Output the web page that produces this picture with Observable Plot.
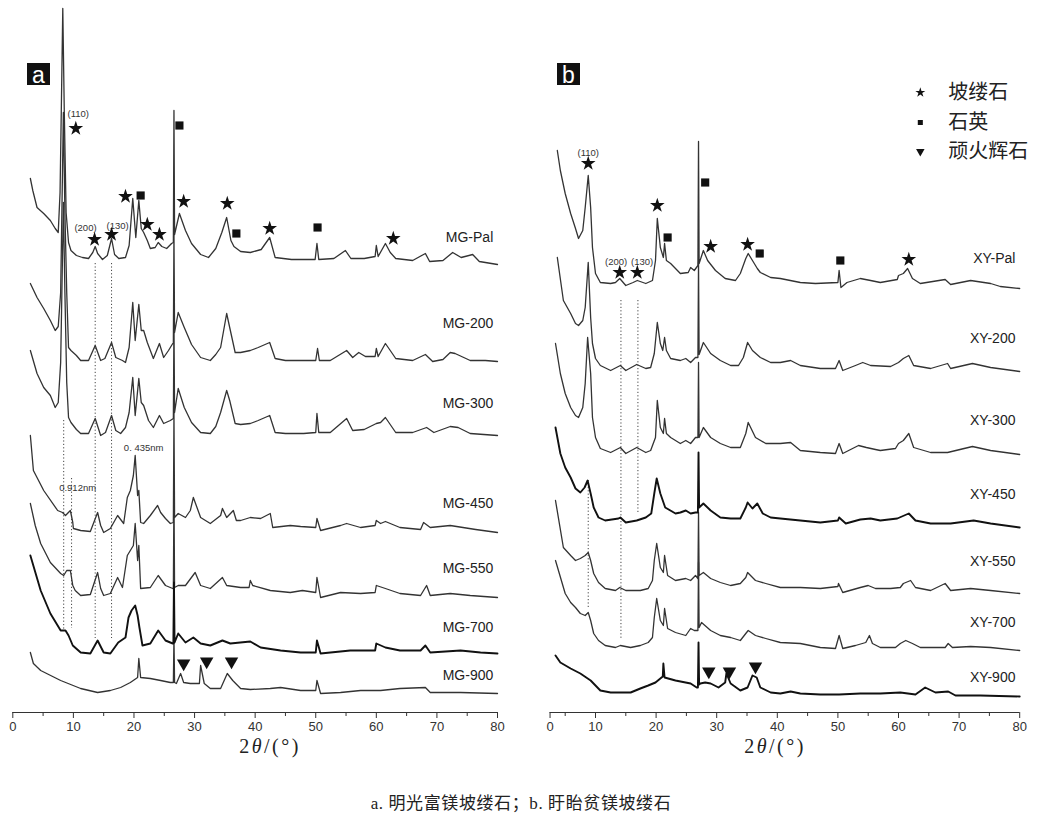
<!DOCTYPE html>
<html><head><meta charset="utf-8">
<script src="https://cdn.jsdelivr.net/npm/d3@7"></script>
<script src="https://cdn.jsdelivr.net/npm/@observablehq/plot@0.6"></script>
<style>
body{margin:0;background:#fff;}
#wrap{width:1042px;}
#row{display:flex;}
#cap{text-align:center;font:17px "Liberation Serif","Noto Sans CJK SC",serif;margin-top:29px;color:#222;letter-spacing:0.6px;}
</style></head><body>
<div id="wrap"><div id="row"></div><div id="cap">a. 明光富镁坡缕石；b. 盱眙贫镁坡缕石</div></div>
<script>
// ---------- Panel a: 明光 (MG) samples, [2θ, intensity (a.u., stacked)] ----------
const MG_Pal = [[2.9,534],[3.3,522],[4.0,505],[5.1,499],[6.2,492],[7.0,484],[7.5,480],[7.8,520],[8.0,600],[8.25,704],[8.5,600],[8.8,500],[9.2,470],[9.6,462],[10.5,457],[11.5,455],[12.5,454],[13.2,460],[13.6,466],[14.0,459],[14.8,453],[15.6,457],[16.3,474],[16.8,458],[17.5,454],[18.6,455],[19.2,467],[19.8,514],[20.3,475],[20.8,512],[21.2,484],[21.6,480],[22.2,472],[22.7,464],[23.5,465],[24.0,470],[24.6,466],[25.4,464],[26.2,469],[26.5,470],[26.6,602],[26.7,478],[27.5,499],[28.5,482],[29.5,469],[31.0,458],[32.3,455],[33.5,464],[34.5,480],[35.3,495],[36.0,472],[36.5,466],[37.6,461],[39.2,460],[41,463],[42.4,475],[43.3,455],[46,453],[49.9,453],[50.2,469],[50.5,453],[53,454],[54.9,462],[55.8,454],[58,454],[59.8,456],[60.0,467],[60.3,456],[61.5,469],[62.3,460],[63.2,454],[66,452],[68.1,459],[68.8,451],[71,452],[72.6,460],[74,455],[75.9,458],[77,451],[80,448]];
const MG_200 = [[2.9,429],[4.0,415],[5.1,404],[6.2,392],[7.0,382],[7.5,386],[7.9,420],[8.1,500],[8.35,600],[8.6,500],[8.9,420],[9.2,365],[9.6,362],[10.5,357],[11.2,352],[12.5,352],[13.6,367],[14.5,352],[15.2,354],[16.3,370],[17.0,355],[18.1,352],[18.6,350],[19.2,365],[19.8,410],[20.2,372],[20.8,408],[21.2,382],[21.6,382],[22.2,370],[23.2,354],[24.2,369],[24.9,355],[25.7,362],[26.4,369],[26.5,369],[26.6,480],[26.7,380],[27.3,400],[28.3,385],[29.5,368],[31.0,355],[32.6,352],[33.5,358],[34.3,365],[35.3,399],[35.8,385],[36.7,360],[37.6,360],[39.2,362],[40.5,365],[42.4,370],[43.3,354],[45,352],[48,352],[50.0,352],[50.3,364],[50.6,352],[52.4,352],[55.1,362],[56.1,355],[57.1,360],[58.2,356],[59.8,356],[60.0,364],[60.3,356],[61.5,369],[62.3,362],[63.2,354],[66,352],[68.1,358],[69.3,351],[71,353],[72.2,360],[73.0,359],[75.5,352],[78,352],[80,351]];
const MG_300 = [[2.9,362],[4.0,339],[5.1,325],[6.2,317],[7.0,305],[7.5,310],[7.9,350],[8.1,420],[8.35,510],[8.6,420],[8.9,330],[9.2,295],[9.6,290],[10.5,283],[11.2,279],[12.5,279],[13.6,294],[14.5,277],[15.3,280],[16.3,297],[17.0,282],[17.8,279],[18.6,285],[19.2,300],[19.8,335],[20.2,297],[20.8,334],[21.2,310],[21.6,307],[22.4,292],[23.2,285],[24.2,297],[24.9,289],[26.0,292],[26.5,294],[26.6,390],[26.7,300],[27.3,324],[28.3,305],[29.5,290],[31.0,280],[32.6,279],[33.5,286],[34.3,300],[35.3,322],[35.8,312],[36.7,289],[37.6,288],[39.2,289],[40.5,292],[42.4,297],[43.3,280],[45,279],[48,279],[50.0,280],[50.2,299],[50.5,280],[52.4,280],[55.1,294],[56.1,282],[58,283],[60.0,289],[60.7,290],[61.5,295],[63.2,280],[66,280],[68.3,285],[69.5,280],[72.2,286],[73.5,285],[75.5,279],[80,277]];
const MG_450 = [[2.9,277],[3.4,242],[5.1,222],[7.4,202],[8.2,200],[8.7,197],[9.5,202],[9.9,190],[10.0,184],[11.2,182],[12.8,181],[14.0,200],[14.5,187],[15.0,180],[16.1,184],[17.3,197],[18.3,189],[18.9,215],[19.4,222],[19.9,237],[20.2,257],[20.6,217],[20.8,222],[21.1,190],[21.6,189],[22.7,197],[23.9,207],[24.4,200],[25.2,194],[26.0,189],[26.5,190],[26.6,300],[26.7,195],[27.3,199],[28.5,195],[29.3,202],[29.8,215],[31.0,195],[32.6,189],[34.3,197],[34.6,204],[35.3,195],[36.4,202],[36.9,192],[37.6,192],[39.2,195],[40.9,194],[42.5,199],[42.9,185],[45.8,187],[47.5,186],[50.0,185],[50.2,194],[50.8,182],[54.1,187],[55.1,189],[57.4,185],[59.8,187],[60.0,192],[60.7,189],[61.5,191],[63.9,185],[67.3,183],[67.8,190],[68.9,185],[72.2,187],[76.4,183],[80,180]];
const MG_550 = [[2.9,209],[3.7,187],[4.6,169],[6.2,150],[7.9,139],[8.4,137],[8.9,142],[9.5,142],[9.9,127],[10.3,122],[11.2,117],[12.8,118],[14.0,140],[14.5,124],[15.0,117],[16.1,119],[17.3,135],[18.1,125],[18.9,157],[19.4,162],[19.9,167],[20.2,189],[20.6,152],[20.8,167],[21.1,124],[22.7,125],[24.0,137],[25.2,127],[26.4,124],[26.5,124],[26.6,220],[26.7,125],[27.3,127],[28.5,127],[30.1,140],[31.0,127],[32.6,124],[34.6,135],[35.3,127],[37.6,125],[39.0,125],[39.2,132],[39.6,127],[42.5,122],[45.8,120],[47.8,122],[50.0,120],[50.2,135],[50.8,115],[54.1,120],[57.4,119],[59.8,120],[60.0,127],[61.5,124],[63.9,119],[67.3,117],[68.3,127],[68.9,117],[72.2,119],[75.5,117],[80,115]];
const MG_700 = [[2.9,157],[4.6,122],[6.2,99],[7.9,82],[8.7,82],[9.2,77],[9.9,67],[11.2,60],[12.8,59],[14.0,72],[15.0,60],[16.1,59],[17.4,70],[18.6,75],[19.1,95],[19.6,102],[20.2,107],[20.6,97],[20.9,85],[21.4,67],[22.7,69],[24.0,82],[25.2,72],[26.4,69],[26.5,69],[26.6,130],[26.7,70],[27.3,79],[28.5,70],[29.8,75],[31.0,69],[32.6,67],[34.6,72],[35.9,69],[39.2,71],[40.9,65],[44.2,62],[47.5,60],[50.0,60],[50.2,72],[50.8,59],[55.7,62],[59.8,62],[60.0,69],[61.5,65],[63.9,62],[67.3,62],[68.1,67],[68.9,60],[73.9,62],[77.2,60],[80,59]];
const MG_900 = [[2.9,60],[3.4,49],[4.6,42],[7.9,32],[11.2,24],[14.0,20],[16.1,22],[17.8,25],[19.4,30],[20.6,35],[20.8,54],[21.1,35],[22.7,34],[24.4,32],[26.0,30],[26.5,30],[26.6,75],[26.7,30],[27.0,29],[27.7,39],[28.2,30],[29.3,29],[30.8,29],[31.0,47],[31.6,29],[32.6,24],[34.3,24],[35.4,39],[36.3,32],[37.6,24],[39.2,23],[42.5,24],[44.2,25],[47.5,22],[50.0,22],[50.2,32],[50.8,19],[54.1,20],[57.4,22],[60.7,22],[63.9,24],[68.1,25],[68.9,20],[73.9,20],[80,19]];

// ---------- Panel b: 盱眙 (XY) samples ----------
const XY_Pal = [[3.7,562],[4.2,542],[5.0,519],[5.9,499],[6.7,484],[7.2,474],[7.9,482],[8.3,505],[8.8,537],[9.2,505],[9.5,465],[10.0,439],[10.8,430],[12.5,429],[13.3,430],[14.0,434],[15.0,427],[16.2,430],[16.9,432],[18.3,429],[19.4,432],[19.9,452],[20.2,494],[20.7,465],[21.2,455],[21.4,469],[21.7,452],[22.4,449],[24.0,439],[25.3,440],[25.7,445],[26.3,442],[26.9,447],[27.0,571],[27.1,449],[27.8,462],[28.5,452],[29.8,442],[31.4,434],[33.1,432],[33.9,439],[34.8,454],[35.2,459],[35.9,452],[36.7,444],[37.2,440],[38.9,435],[40.5,434],[43.8,430],[46.3,429],[50.0,430],[50.2,442],[50.5,425],[51.5,430],[53.7,434],[55.4,432],[57.0,430],[59.8,433],[60.0,437],[60.8,439],[61.5,444],[62.3,434],[63.6,429],[67.7,433],[68.6,428],[71.9,432],[75.2,429],[76.8,426],[80,424]];
const XY_200 = [[3.7,455],[4.7,412],[5.9,399],[6.7,389],[7.2,387],[7.9,392],[8.3,405],[8.8,450],[9.2,395],[9.5,369],[10.0,354],[10.8,347],[12.5,342],[14.1,347],[15.0,342],[16.8,348],[18.3,344],[19.1,345],[19.7,359],[20.2,390],[20.7,369],[21.1,362],[21.4,375],[21.7,362],[22.4,354],[24.0,352],[24.9,354],[25.7,350],[26.5,355],[26.9,355],[27.0,450],[27.1,358],[27.8,370],[29.0,359],[30.6,352],[32.3,347],[33.6,347],[34.4,355],[35.1,370],[35.9,362],[37.2,355],[38.9,350],[40.5,350],[42.2,352],[43.8,347],[47.1,344],[49.6,344],[50.2,352],[50.8,342],[52.9,347],[54.1,350],[55.4,347],[58.7,346],[60.0,350],[60.8,354],[61.7,357],[62.5,347],[65.3,344],[68.1,349],[68.6,344],[72.2,349],[75.2,345],[80,341]];
const XY_300 = [[3.4,369],[4.2,339],[5.0,319],[5.9,305],[6.7,297],[7.2,295],[7.9,305],[8.3,329],[8.7,375],[9.2,339],[9.5,295],[10.0,275],[10.8,264],[12.5,260],[14.1,265],[15.0,259],[16.8,265],[18.3,260],[19.1,262],[19.9,275],[20.2,312],[20.7,285],[21.2,279],[21.4,294],[21.7,279],[22.4,275],[24.0,269],[24.9,272],[25.7,269],[26.5,275],[26.9,275],[27.0,350],[27.1,275],[27.8,285],[29.0,275],[30.6,269],[32.3,265],[33.9,265],[34.8,279],[35.2,290],[36.4,275],[38.1,269],[40.5,269],[42.2,270],[43.8,262],[47.1,260],[49.6,259],[50.2,269],[50.8,259],[53.4,267],[54.7,265],[56.2,263],[57.0,262],[59.5,264],[60.0,269],[60.8,272],[61.7,279],[62.5,265],[65.3,260],[68.1,260],[72.2,266],[75.2,262],[80,258]];
const XY_450 = [[3.4,285],[4.2,259],[5.0,245],[5.9,235],[6.7,224],[7.5,220],[8.2,225],[8.7,232],[9.2,219],[9.7,205],[10.5,195],[11.6,192],[13.8,194],[14.1,195],[15.0,190],[16.8,192],[18.3,195],[19.2,199],[19.7,219],[20.1,234],[20.7,219],[21.5,205],[23.2,199],[24.0,200],[24.9,202],[25.7,199],[26.5,200],[26.9,200],[27.0,260],[27.1,205],[27.8,209],[29.0,202],[30.6,195],[32.3,194],[33.9,194],[34.8,205],[35.1,210],[35.9,204],[36.7,209],[37.6,199],[38.9,195],[40.5,194],[43.8,192],[47.1,190],[50.0,192],[50.2,195],[51.3,189],[53.7,193],[55.4,194],[57.0,192],[59.8,194],[61.7,199],[62.8,192],[65.3,189],[68.6,189],[72.4,192],[75.2,189],[80,185]];
const XY_550 = [[3.4,212],[4.7,165],[5.9,157],[6.7,152],[7.5,154],[8.3,157],[8.8,160],[9.2,152],[9.7,139],[10.5,130],[11.6,124],[13.3,122],[14.0,125],[15.0,122],[17.4,122],[18.7,124],[19.4,132],[19.7,152],[20.1,169],[20.7,145],[21.2,140],[21.4,157],[21.9,137],[23.2,132],[24.9,134],[25.7,132],[26.5,137],[26.9,134],[27.0,200],[27.1,137],[27.8,140],[29.0,134],[30.6,130],[32.3,127],[33.9,129],[34.8,135],[35.1,140],[36.4,132],[38.1,129],[40.5,125],[43.8,125],[47.1,124],[50.0,126],[50.1,129],[50.8,120],[53.7,125],[55.0,127],[56.2,124],[58.7,124],[60.3,125],[60.8,129],[62.0,132],[62.8,125],[65.3,122],[67.7,129],[68.6,122],[71.9,124],[75.2,122],[80,119]];
const XY_700 = [[3.4,152],[5.0,119],[5.9,110],[6.7,105],[7.5,99],[8.3,97],[8.8,100],[9.2,92],[9.7,79],[10.5,72],[11.6,67],[13.3,65],[14.1,67],[15.8,65],[17.4,67],[18.7,70],[19.4,75],[19.7,95],[20.1,114],[20.7,92],[21.2,87],[21.4,104],[21.9,84],[23.2,80],[24.9,77],[25.7,84],[26.3,82],[26.9,82],[27.0,150],[27.1,85],[27.5,90],[29.0,82],[30.6,77],[32.3,75],[33.9,72],[34.8,79],[35.2,82],[36.4,77],[38.1,74],[40.5,70],[43.8,69],[47.1,65],[49.6,64],[50.2,77],[50.8,64],[52.9,67],[54.6,70],[55.2,77],[55.7,69],[57.0,65],[59.5,65],[60.3,69],[61.2,72],[62.3,69],[63.6,65],[67.7,65],[68.2,69],[68.9,65],[71.9,66],[75.2,65],[80,62]];
const XY_900 = [[3.4,57],[4.2,50],[5.9,44],[7.5,39],[9.2,32],[10.8,22],[12.5,20],[14.1,20],[15.8,20],[17.4,24],[18.7,27],[19.9,30],[20.7,34],[21.1,36],[21.2,49],[21.4,35],[23.2,32],[25.7,29],[26.7,25],[26.9,25],[27.0,70],[27.1,28],[27.3,29],[28.1,30],[29.0,29],[30.3,25],[31.4,30],[31.6,39],[32.3,29],[33.9,22],[35.1,25],[35.9,37],[36.6,35],[37.2,25],[38.9,20],[40.5,19],[42.2,21],[43.8,19],[47.1,18],[50.2,18],[53.7,19],[57.0,19],[60.3,20],[62.8,18],[64.4,25],[66.1,20],[68.2,21],[69.4,17],[73.5,17],[80,16]];

// sample names, label heights, line weights
const samplesA = ["MG-Pal","MG-200","MG-300","MG-450","MG-550","MG-700","MG-900"];
const tracesA = [MG_Pal, MG_200, MG_300, MG_450, MG_550, MG_700, MG_900];
const labelYA = [475, 389, 309, 209, 144, 85, 37];
const boldA = [false,false,false,false,false,true,false];
const samplesB = ["XY-Pal","XY-200","XY-300","XY-450","XY-550","XY-700","XY-900"];
const tracesB = [XY_Pal, XY_200, XY_300, XY_450, XY_550, XY_700, XY_900];
const labelYB = [454, 374, 292, 218, 151, 90, 35];
const boldB = [false,false,false,true,false,false,true];

// phase markers [2θ, height]
const starsA = [[10.4,584],[13.5,473],[16.3,478],[18.6,516],[22.2,488],[24.2,478],[28.2,511],[35.4,509],[42.4,484],[62.8,474]];
const squaresA = [[21.1,517],[27.5,587],[36.9,479],[50.3,485]];
const trianglesA = [[28.2,49],[32.0,51],[36.1,51]];
const starsB = [[8.8,549],[14.0,440],[16.9,440],[20.2,507],[29.0,466],[35.1,468],[61.7,453]];
const squaresB = [[21.9,475],[28.1,530],[37.1,459],[50.4,452]];
const trianglesB = [[28.7,41],[32.1,41],[36.4,46]];
// hkl / d-spacing annotations
const notesA = [["(110)",10.8,599],["(200)",12.0,485],["(130)",17.3,487],["0.912nm",10.7,225],["0. 435nm",21.6,265]];
const notesB = [["(110)",8.8,560],["(200)",13.4,451],["(130)",17.7,451]];
// dotted guide lines [2θ, from, to]
const guidesA = [[13.6,449,74],[16.3,449,74],[8.4,292,82],[9.7,234,84]];
const guidesB = [[8.8,232,105],[14.2,412,72],[17.0,412,199]];
// legend
const legendNames = ["坡缕石","石英","顽火辉石"];
const legendSymbols = ["star","square","triangle"];
const legendY = [620,590,561];
// axis ticks (panel b's printed "0" sits where its axis line starts)
const xTicksA = [0,10,20,30,40,50,60,70,80];
const xTicksB = [2.5,10,20,30,40,50,60,70,80];
const xTickLabels = ["0","10","20","30","40","50","60","70","80"];
const xMinor = [5,15,25,35,45,55,65,75];

function panel(o) {
  const lineData = o.traces.flatMap((tr, i) => tr.map(d => ({t: d[0], v: d[1], s: o.samples[i], b: o.bold[i]})));
  const labels = o.samples.map((s, i) => ({s, v: o.labelY[i]}));
  const marks = [
    Plot.ruleY([0], {x1: o.ticks[0], x2: 80, stroke: "#333", strokeWidth: 1}),
    Plot.axisX(o.ticks, {tickSize: 6, tickPadding: 3, fontSize: 13, fill: "#333", stroke: "#333", label: null,
      tickFormat: (d, i) => xTickLabels[o.ticks.indexOf(d)]}),
    Plot.axisX(xMinor, {tickSize: 4, tickFormat: () => "", stroke: "#333", label: null}),
    Plot.ruleX(o.guides, {x: d => d[0], y1: d => d[1], y2: d => d[2], stroke: "#444", strokeWidth: 1, strokeDasharray: "1.2,2.2"}),
    Plot.line(lineData.filter(d => !d.b), {x: "t", y: "v", z: "s", stroke: "#333", strokeWidth: 1.3, curve: "linear"}),
    Plot.line(lineData.filter(d => d.b), {x: "t", y: "v", z: "s", stroke: "#111", strokeWidth: 1.9, curve: "linear"}),
    Plot.text(labels, {x: 79.3, y: "v", text: "s", textAnchor: "end", fontSize: 14, fill: "#222", fontFamily: "Liberation Sans, Arial, sans-serif"}),
    Plot.text(o.notes, {x: d => d[1], y: d => d[2], text: d => d[0], fontSize: 9.5, fill: "#333", fontFamily: "Liberation Sans, Arial, sans-serif"}),
    Plot.dot(o.stars, {x: d => d[0], y: d => d[1], symbol: "star", r: 4.6, fill: "#111", stroke: "none"}),
    Plot.dot(o.squares, {x: d => d[0], y: d => d[1], symbol: "square", r: 4.6, fill: "#111", stroke: "none"}),
    Plot.dot(o.triangles, {x: d => d[0], y: d => d[1], symbol: "triangle", r: 5, rotate: 180, fill: "#111", stroke: "none"})
  ];
  if (o.legend) {
    const lg = legendNames.map((n, i) => ({n, sym: legendSymbols[i], v: legendY[i]}));
    marks.push(
      Plot.dot(lg, {x: 63.6, y: "v", symbol: "sym", r: d => d.sym === "square" ? 3.8 : 4.6, rotate: d => d.sym === "triangle" ? 180 : 0, fill: "#111", stroke: "none"}),
      Plot.text(lg, {x: 68.2, y: "v", text: "n", textAnchor: "start", fontSize: 20, fill: "#222", fontFamily: "Noto Sans CJK SC, sans-serif"})
    );
  }
  const svg = Plot.plot({
    width: 521, height: 760,
    marginTop: 0, marginBottom: 48, marginLeft: o.ml, marginRight: o.mr,
    x: {domain: [0, 80]},
    y: {domain: [0, 712], axis: null},
    symbol: {type: "identity"},
    style: {fontFamily: "Liberation Sans, Arial, sans-serif", background: "#fff", overflow: "visible"},
    marks
  });
  const s = d3.select(svg);
  // panel letter
  s.append("rect").attr("x", o.boxX).attr("y", 63).attr("width", 23).attr("height", 22).attr("fill", "#111");
  s.append("text").attr("x", o.boxX + 11.5).attr("y", 74.5).attr("text-anchor", "middle").attr("dominant-baseline", "central")
    .attr("fill", "#fff").attr("font-size", 23).attr("font-family", "Liberation Sans, Arial, sans-serif").text(o.letter);
  // x label 2θ/(°)
  const t = s.append("text").attr("x", o.labX).attr("y", 746).attr("text-anchor", "middle").attr("dominant-baseline", "central")
    .attr("font-size", 20).attr("fill", "#222").attr("font-family", "Liberation Serif, serif").attr("letter-spacing", "2.5px");
  t.append("tspan").text("2");
  t.append("tspan").attr("font-style", "italic").text("θ");
  t.append("tspan").text("/(°)");
  return svg;
}

const row = document.getElementById("row");
row.appendChild(panel({traces: tracesA, samples: samplesA, labelY: labelYA, bold: boldA, stars: starsA, squares: squaresA, triangles: trianglesA,
  notes: notesA, guides: guidesA, ticks: xTicksA, ml: 12.3, mr: 24, boxX: 27, letter: "a", labX: 270, legend: false}));
row.appendChild(panel({traces: tracesB, samples: samplesB, labelY: labelYB, bold: boldB, stars: starsB, squares: squaresB, triangles: trianglesB,
  notes: notesB, guides: guidesB, ticks: xTicksB, ml: 13.4, mr: 22.8, boxX: 36, letter: "b", labX: 254, legend: true}));
</script>
</body></html>
